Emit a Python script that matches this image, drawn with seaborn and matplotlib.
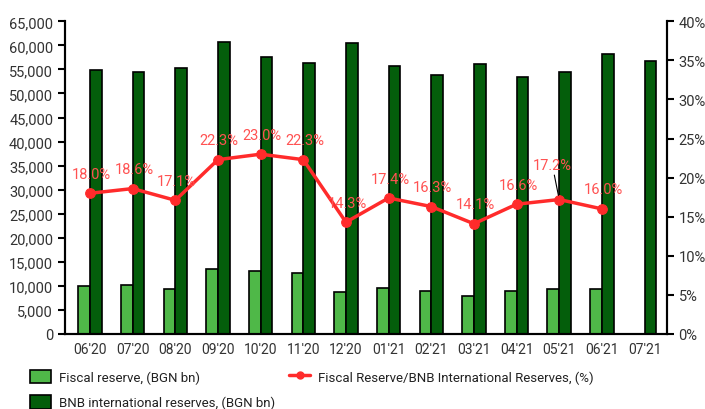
import numpy as np
import pandas as pd
import matplotlib
matplotlib.use("Agg")
import matplotlib.pyplot as plt
import seaborn as sns
from matplotlib.ticker import FuncFormatter, MultipleLocator
from matplotlib.patches import Patch
from matplotlib.lines import Line2D

months = ["06'20", "07'20", "08'20", "09'20", "10'20", "11'20", "12'20",
          "01'21", "02'21", "03'21", "04'21", "05'21", "06'21", "07'21"]
fiscal = [9940, 10210, 9380, 13540, 13130, 12580, 8630,
          9580, 8830, 7920, 8830, 9450, 9450, np.nan]
bnb = [54890, 54550, 55300, 60790, 57670, 56280, 60440,
       55720, 53930, 56140, 53370, 54410, 58150, 56700]
ratio = [18.0, 18.6, 17.1, 22.3, 23.0, 22.3, 14.3,
         17.4, 16.3, 14.1, 16.6, 17.2, 16.0, np.nan]

lbl_fiscal = "Fiscal reserve, (BGN bn)"
lbl_bnb = "BNB international reserves, (BGN bn)"
lbl_ratio = "Fiscal Reserve/BNB International Reserves, (%)"

c_light = "#4fb848"
c_dark = "#045e0b"
c_red = "#ff2b2b"
c_lbl = "#ff5252"

sns.set_style("white")
plt.rcParams["font.family"] = ["Roboto", "DejaVu Sans"]

df = pd.DataFrame({"month": months * 2,
                   "series": [lbl_fiscal] * len(months) + [lbl_bnb] * len(months),
                   "value": fiscal + bnb})

fig = plt.figure(figsize=(7.05, 4.10), dpi=100)
ax = fig.add_axes([0.0922, 0.183, 0.9457 - 0.0922, 0.9456 - 0.183])

sns.barplot(data=df, x="month", y="value", hue="series",
            palette=[c_light, c_dark], saturation=1, width=0.55,
            edgecolor="black", linewidth=1.2, ax=ax, legend=False,
            errorbar=None)

ax.set_xlim(-0.586, 13.52)
ax.set_ylim(0, 65000)
ax.yaxis.set_major_locator(MultipleLocator(5000))
ax.yaxis.set_major_formatter(FuncFormatter(lambda v, p: f"{int(v):,}"))
ax.set_xlabel("")
ax.set_ylabel("")
ax.spines["top"].set_visible(False)
for s in ["left", "right", "bottom"]:
    ax.spines[s].set_color("black")
    ax.spines[s].set_linewidth(1.5)
ax.tick_params(axis="y", direction="out", length=5, width=1.5,
               labelsize=10.5, colors="black", labelcolor="#333333", left=True)
ax.tick_params(axis="x", length=0, labelsize=10, labelcolor="#333333", pad=6)

ax2 = ax.twinx()
x = np.arange(len(months))
sns.lineplot(x=x, y=ratio, ax=ax2, color=c_red, linewidth=2.5,
             marker="o", markersize=7, markeredgecolor=c_red)
ax2.set_ylim(0, 40)
ax2.yaxis.set_major_locator(MultipleLocator(5))
ax2.yaxis.set_major_formatter(FuncFormatter(lambda v, p: f"{int(v)}%"))
ax2.spines["top"].set_visible(False)
for s in ["left", "right", "bottom"]:
    ax2.spines[s].set_color("black")
    ax2.spines[s].set_linewidth(1.5)
ax2.tick_params(axis="y", direction="out", length=5, width=1.5,
                labelsize=10.5, colors="black", labelcolor="#333333")
ax2.set_xlim(-0.586, 13.52)

for i, r in enumerate(ratio):
    if np.isnan(r):
        continue
    if months[i] == "05'21":
        ax2.annotate(f"{r:.1f}%", xy=(i, r), xytext=(-5, 25),
                     textcoords="offset points", ha="center", va="center",
                     color=c_lbl, fontsize=10.5,
                     arrowprops=dict(arrowstyle="-", color="black", lw=0.8,
                                     shrinkA=0, shrinkB=3))
    else:
        ax2.annotate(f"{r:.1f}%", xy=(i, r), xytext=(1, 14),
                     textcoords="offset points", ha="center", va="center",
                     color=c_lbl, fontsize=10.5)

handles = [Patch(facecolor=c_light, edgecolor="black", linewidth=1.2),
           Patch(facecolor=c_dark, edgecolor="black", linewidth=1.2),
           Line2D([], [], color=c_red, linewidth=2.5, marker="o", markersize=5)]
fig.legend(handles, [lbl_fiscal, lbl_bnb, lbl_ratio], ncol=2,
           loc="upper left", bbox_to_anchor=(0.025, 0.125), frameon=False,
           fontsize=9.5, handlelength=1.6, handleheight=1.2, handletextpad=0.6,
           columnspacing=1.1, labelspacing=0.85, labelcolor="#222222")

fig.savefig("out.png", dpi=100)
